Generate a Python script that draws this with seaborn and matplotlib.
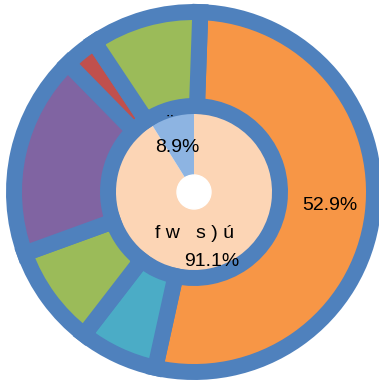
import matplotlib
matplotlib.use("Agg")
import matplotlib.pyplot as plt
import seaborn as sns

# Outer ring: six categories (share of total, %)
outer_values = [52.9, 7.0, 9.0, 18.2, 3.0, 9.9]
outer_colors = ["#F79646", "#4BACC6", "#9BBB59", "#8064A2", "#C0504D", "#9BBB59"]

# Inner pie: two groups (%)
inner_values = [91.1, 8.9]
inner_colors = ["#FCD5B5", "#8DB4E2"]

edge_blue = "#4F81BD"

sns.set_theme(style="white")
plt.rcParams["font.family"] = ["Liberation Sans", "DejaVu Sans"]

fig = plt.figure(figsize=(3.79, 3.81), dpi=100)
ax = fig.add_axes([0, 0, 1, 1])
ax.set_aspect("equal")
ax.axis("off")

# Inner pie
ax.pie(inner_values, radius=80, colors=inner_colors, startangle=90,
       counterclock=False, wedgeprops=dict(linewidth=0))

# Outer ring with thick blue outlines
ax.pie(outer_values, radius=180, colors=outer_colors, startangle=88,
       counterclock=False,
       wedgeprops=dict(width=94, edgecolor=edge_blue, linewidth=11.5))

# Small hole in the middle
ax.add_patch(plt.Circle((0, 0), 17, color="white", zorder=5))

ax.set_xlim(-194, 185)
ax.set_ylim(-189, 192)

fs = 14
txt = dict(fontsize=fs, va="baseline", color="black", zorder=6)
ax.text(-24, 65, "¨", ha="center", **txt)
ax.text(-17, 40, f"{inner_values[1]}%", ha="center", **txt)
ax.text(-39, -46, "f w   s ) ú", ha="left", **txt)
ax.text(18, -74, f"{inner_values[0]}%", ha="center", **txt)
ax.text(135.5, -18, f"{outer_values[0]}%", ha="center", **txt)

fig.savefig("out.png", dpi=100)
